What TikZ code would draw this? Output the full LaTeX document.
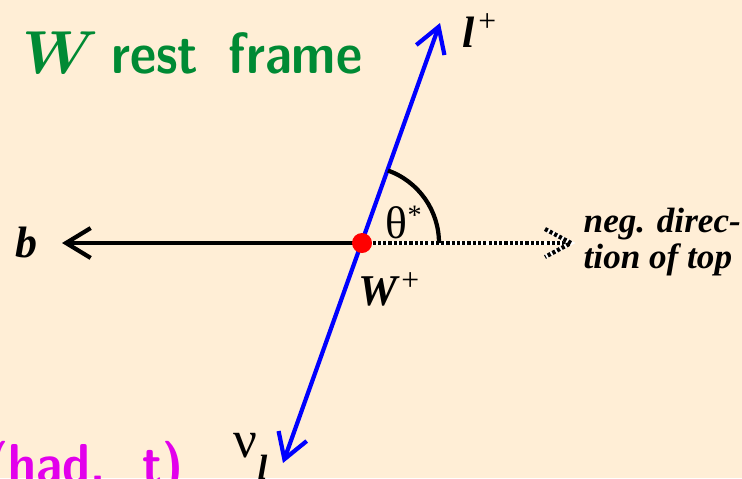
\documentclass[tikz,border=0pt]{standalone}
\usepackage{bm}
\usepackage{fontspec}
\usepackage{xcolor}
\usepackage{graphicx}
\usepackage{tikz}
\usetikzlibrary{arrows.meta, calc}
\newfontfamily\labfont{Liberation Serif}
\definecolor{bgpeach}{RGB}{255,238,214}
\definecolor{framegreen}{RGB}{0,138,52}
\definecolor{hadmagenta}{RGB}{226,0,236}

\begin{document}
\begin{tikzpicture}[
        >={Straight Barb[length=7pt,width=8.5pt]},
        vec/.style={line width=1.2pt},
        topdir/.style={line width=1.2pt, dash pattern=on 0.9pt off 0.6pt,
            preaction={draw=white, solid, line width=1.2pt}},
        lab/.style={inner sep=0pt, anchor=base west,
            font=\labfont\fontsize{12.5}{14}\selectfont\bfseries\itshape},
        sup/.style={inner sep=0pt, anchor=base west, font=\labfont\fontsize{13}{15}\selectfont}
    ]
        \useasboundingbox (0,0) rectangle (7.42,4.78);
        \fill[bgpeach] (0,0) rectangle (7.42,4.78);
        \clip (0,0) rectangle (7.42,4.78);

        % decay point and momentum ends
        \coordinate (W) at (3.62,2.35);
        \coordinate (bq) at (0.62,2.35);
        \coordinate (lep) at (4.40,4.55);
        \coordinate (nu) at (2.83,0.15);
        \coordinate (tp) at (5.71,2.35);

        \draw[vec, blue, <->] (nu) -- (lep);
        \draw[vec, ->] (W) -- (bq);
        \draw[topdir] (W) -- (tp);
        \draw[topdir] ($(tp)+(-0.26,0.14)$) -- (tp) -- ($(tp)+(-0.26,-0.14)$);
        \draw[vec] ($(W)+(0.77,0)$) arc[start angle=0, end angle=70.3, radius=0.77];
        \fill[red] (W) circle (0.1);

        \node[inner sep=0pt, anchor=base west, text=framegreen,
            font=\sffamily\bfseries\fontsize{16.5}{19}\selectfont] (title) at (0.22,4.05)
            {$\bm{W}$\hspace{3.5pt}\scalebox{0.88}[1]{rest\hspace{0.6em}frame}};
        \node[lab] (blab) at (0.15,2.21) {b};
        \node[lab] (llab) at (4.62,4.31)
            {l\raisebox{4.4pt}{\normalfont\labfont\fontsize{9}{9}\selectfont\hspace{1pt}+}};
        \node[lab] (wlab) at (3.58,1.73)
            {W\raisebox{4.1pt}{\normalfont\labfont\fontsize{9}{9}\selectfont\hspace{1pt}+}};
        \node[sup] (theta) at (3.85,2.40) {θ\raisebox{3.8pt}{\fontsize{8}{9}\selectfont *}};
        \node[sup, font=\labfont\fontsize{15}{17}\selectfont] (nulab) at (2.33,0.21)
            {ν\raisebox{-6.5pt}{\bfseries\itshape\fontsize{10}{11}\selectfont l}};
        \node[lab, align=left, font=\labfont\fontsize{10}{10.2}\selectfont\bfseries\itshape]
            (negtop) at (5.83,2.10) {neg. direc-\\tion of top};
        \node[inner sep=0pt, anchor=base west, text=hadmagenta,
            font=\sffamily\bfseries\fontsize{16}{19}\selectfont] (had) at (-0.13,-0.05)
            {\scalebox{0.88}[1]{(had.\hspace{0.75em}t)}};
\end{tikzpicture}
\end{document}
